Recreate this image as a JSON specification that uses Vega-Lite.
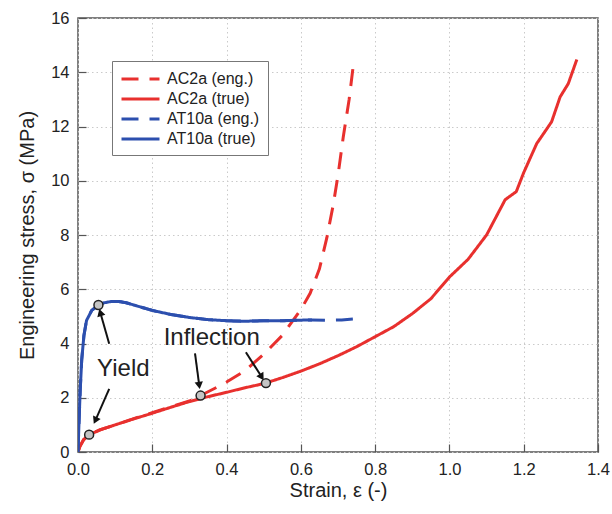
{
  "$schema": "https://vega.github.io/schema/vega-lite/v6.json",
  "autosize": "none",
  "width": 520,
  "height": 434,
  "padding": {"left": 78, "top": 18, "right": 14, "bottom": 62},
  "background": "white",
  "config": {
    "font": "Liberation Sans",
    "view": {"stroke": "#555", "strokeWidth": 1.5},
    "axis": {
      "domain": false,
      "labelFontSize": 16.5,
      "labelColor": "#222",
      "titleFontSize": 20,
      "titleFontWeight": "normal",
      "titleColor": "#222",
      "tickColor": "#555",
      "tickWidth": 1.2,
      "gridColor": "#cacaca",
      "gridDash": [1.5, 3],
      "gridWidth": 1
    },
    "legend": {
      "orient": "none",
      "legendX": 34,
      "legendY": 43,
      "title": null,
      "strokeColor": "#777",
      "fillColor": "white",
      "padding": 8,
      "labelFontSize": 16,
      "labelColor": "#222",
      "labelOffset": 27,
      "symbolType": "M-1,0H3.47",
      "symbolSize": 289,
      "symbolStrokeWidth": 3,
      "rowPadding": 2
    }
  },
  "datasets": {
    "curves": [
      {"series": "AC2a (eng.)", "strain": 0, "stress": 0},
      {"series": "AC2a (eng.)", "strain": 0.005, "stress": 0.2},
      {"series": "AC2a (eng.)", "strain": 0.015, "stress": 0.45},
      {"series": "AC2a (eng.)", "strain": 0.03, "stress": 0.64},
      {"series": "AC2a (eng.)", "strain": 0.06, "stress": 0.82},
      {"series": "AC2a (eng.)", "strain": 0.1, "stress": 1.0},
      {"series": "AC2a (eng.)", "strain": 0.15, "stress": 1.23},
      {"series": "AC2a (eng.)", "strain": 0.2, "stress": 1.45},
      {"series": "AC2a (eng.)", "strain": 0.25, "stress": 1.67},
      {"series": "AC2a (eng.)", "strain": 0.3, "stress": 1.88},
      {"series": "AC2a (eng.)", "strain": 0.33, "stress": 2.08},
      {"series": "AC2a (eng.)", "strain": 0.37, "stress": 2.36},
      {"series": "AC2a (eng.)", "strain": 0.4, "stress": 2.58},
      {"series": "AC2a (eng.)", "strain": 0.45, "stress": 3.0},
      {"series": "AC2a (eng.)", "strain": 0.5, "stress": 3.6},
      {"series": "AC2a (eng.)", "strain": 0.55, "stress": 4.3},
      {"series": "AC2a (eng.)", "strain": 0.6, "stress": 5.25},
      {"series": "AC2a (eng.)", "strain": 0.625, "stress": 5.85},
      {"series": "AC2a (eng.)", "strain": 0.65, "stress": 6.75},
      {"series": "AC2a (eng.)", "strain": 0.67, "stress": 7.9},
      {"series": "AC2a (eng.)", "strain": 0.687, "stress": 9.1},
      {"series": "AC2a (eng.)", "strain": 0.7, "stress": 10.2},
      {"series": "AC2a (eng.)", "strain": 0.714, "stress": 11.6},
      {"series": "AC2a (eng.)", "strain": 0.73, "stress": 13.0},
      {"series": "AC2a (eng.)", "strain": 0.742, "stress": 14.35},
      {"series": "AC2a (true)", "strain": 0, "stress": 0},
      {"series": "AC2a (true)", "strain": 0.005, "stress": 0.2},
      {"series": "AC2a (true)", "strain": 0.015, "stress": 0.45},
      {"series": "AC2a (true)", "strain": 0.03, "stress": 0.64},
      {"series": "AC2a (true)", "strain": 0.06, "stress": 0.82},
      {"series": "AC2a (true)", "strain": 0.1, "stress": 1.0},
      {"series": "AC2a (true)", "strain": 0.15, "stress": 1.22},
      {"series": "AC2a (true)", "strain": 0.2, "stress": 1.43},
      {"series": "AC2a (true)", "strain": 0.25, "stress": 1.65},
      {"series": "AC2a (true)", "strain": 0.3, "stress": 1.86},
      {"series": "AC2a (true)", "strain": 0.35, "stress": 2.04},
      {"series": "AC2a (true)", "strain": 0.4, "stress": 2.2},
      {"series": "AC2a (true)", "strain": 0.45, "stress": 2.37},
      {"series": "AC2a (true)", "strain": 0.5, "stress": 2.52},
      {"series": "AC2a (true)", "strain": 0.55, "stress": 2.74},
      {"series": "AC2a (true)", "strain": 0.6, "stress": 2.98},
      {"series": "AC2a (true)", "strain": 0.65, "stress": 3.25},
      {"series": "AC2a (true)", "strain": 0.7, "stress": 3.55},
      {"series": "AC2a (true)", "strain": 0.75, "stress": 3.88},
      {"series": "AC2a (true)", "strain": 0.8, "stress": 4.25},
      {"series": "AC2a (true)", "strain": 0.85, "stress": 4.62},
      {"series": "AC2a (true)", "strain": 0.9, "stress": 5.1},
      {"series": "AC2a (true)", "strain": 0.95, "stress": 5.65},
      {"series": "AC2a (true)", "strain": 1.0, "stress": 6.45},
      {"series": "AC2a (true)", "strain": 1.05, "stress": 7.1},
      {"series": "AC2a (true)", "strain": 1.1, "stress": 8.0},
      {"series": "AC2a (true)", "strain": 1.15, "stress": 9.3},
      {"series": "AC2a (true)", "strain": 1.18, "stress": 9.6},
      {"series": "AC2a (true)", "strain": 1.2, "stress": 10.3},
      {"series": "AC2a (true)", "strain": 1.235, "stress": 11.37},
      {"series": "AC2a (true)", "strain": 1.275, "stress": 12.17},
      {"series": "AC2a (true)", "strain": 1.298, "stress": 13.09},
      {"series": "AC2a (true)", "strain": 1.32, "stress": 13.58},
      {"series": "AC2a (true)", "strain": 1.343, "stress": 14.47},
      {"series": "AT10a (eng.)", "strain": 0, "stress": 0},
      {"series": "AT10a (eng.)", "strain": 0.003, "stress": 1.2},
      {"series": "AT10a (eng.)", "strain": 0.006, "stress": 2.3},
      {"series": "AT10a (eng.)", "strain": 0.01, "stress": 3.4},
      {"series": "AT10a (eng.)", "strain": 0.016, "stress": 4.3},
      {"series": "AT10a (eng.)", "strain": 0.023, "stress": 4.85},
      {"series": "AT10a (eng.)", "strain": 0.037, "stress": 5.22},
      {"series": "AT10a (eng.)", "strain": 0.055, "stress": 5.42},
      {"series": "AT10a (eng.)", "strain": 0.07, "stress": 5.5},
      {"series": "AT10a (eng.)", "strain": 0.09, "stress": 5.55},
      {"series": "AT10a (eng.)", "strain": 0.11, "stress": 5.55},
      {"series": "AT10a (eng.)", "strain": 0.13, "stress": 5.5},
      {"series": "AT10a (eng.)", "strain": 0.16, "stress": 5.38},
      {"series": "AT10a (eng.)", "strain": 0.2, "stress": 5.22},
      {"series": "AT10a (eng.)", "strain": 0.25, "stress": 5.07},
      {"series": "AT10a (eng.)", "strain": 0.3, "stress": 4.96},
      {"series": "AT10a (eng.)", "strain": 0.35, "stress": 4.88},
      {"series": "AT10a (eng.)", "strain": 0.4, "stress": 4.84},
      {"series": "AT10a (eng.)", "strain": 0.45, "stress": 4.82},
      {"series": "AT10a (eng.)", "strain": 0.5, "stress": 4.84},
      {"series": "AT10a (eng.)", "strain": 0.55, "stress": 4.84},
      {"series": "AT10a (eng.)", "strain": 0.6, "stress": 4.86},
      {"series": "AT10a (eng.)", "strain": 0.63, "stress": 4.87},
      {"series": "AT10a (eng.)", "strain": 0.67, "stress": 4.86},
      {"series": "AT10a (eng.)", "strain": 0.71, "stress": 4.87},
      {"series": "AT10a (eng.)", "strain": 0.74, "stress": 4.9},
      {"series": "AT10a (true)", "strain": 0, "stress": 0},
      {"series": "AT10a (true)", "strain": 0.003, "stress": 1.2},
      {"series": "AT10a (true)", "strain": 0.006, "stress": 2.3},
      {"series": "AT10a (true)", "strain": 0.01, "stress": 3.4},
      {"series": "AT10a (true)", "strain": 0.016, "stress": 4.3},
      {"series": "AT10a (true)", "strain": 0.023, "stress": 4.85},
      {"series": "AT10a (true)", "strain": 0.037, "stress": 5.22},
      {"series": "AT10a (true)", "strain": 0.055, "stress": 5.42},
      {"series": "AT10a (true)", "strain": 0.07, "stress": 5.5},
      {"series": "AT10a (true)", "strain": 0.09, "stress": 5.55},
      {"series": "AT10a (true)", "strain": 0.11, "stress": 5.55},
      {"series": "AT10a (true)", "strain": 0.13, "stress": 5.5},
      {"series": "AT10a (true)", "strain": 0.16, "stress": 5.38},
      {"series": "AT10a (true)", "strain": 0.2, "stress": 5.22},
      {"series": "AT10a (true)", "strain": 0.25, "stress": 5.07},
      {"series": "AT10a (true)", "strain": 0.3, "stress": 4.96},
      {"series": "AT10a (true)", "strain": 0.35, "stress": 4.88},
      {"series": "AT10a (true)", "strain": 0.4, "stress": 4.84},
      {"series": "AT10a (true)", "strain": 0.45, "stress": 4.82},
      {"series": "AT10a (true)", "strain": 0.5, "stress": 4.84},
      {"series": "AT10a (true)", "strain": 0.55, "stress": 4.84},
      {"series": "AT10a (true)", "strain": 0.6, "stress": 4.86},
      {"series": "AT10a (true)", "strain": 0.63, "stress": 4.87}
    ],
    "markers": [
      {"strain": 0.03, "stress": 0.64},
      {"strain": 0.055, "stress": 5.42},
      {"strain": 0.33, "stress": 2.08},
      {"strain": 0.506, "stress": 2.54}
    ],
    "arrows": [
      {"id": "y1", "x": 0.084, "y": 3.99, "x2": 0.061, "y2": 5.1},
      {"id": "y2", "x": 0.084, "y": 2.33, "x2": 0.048, "y2": 1.2},
      {"id": "i1", "x": 0.315, "y": 3.64, "x2": 0.326, "y2": 2.5},
      {"id": "i2", "x": 0.452, "y": 3.68, "x2": 0.493, "y2": 2.8}
    ],
    "labels": [
      {"strain": 0.122, "stress": 3.07, "text": "Yield"},
      {"strain": 0.36, "stress": 4.22, "text": "Inflection"}
    ]
  },
  "layer": [
    {
      "data": {"name": "curves"},
      "mark": {"type": "line", "strokeWidth": 3, "clip": true},
      "encoding": {
        "x": {
          "field": "strain", "type": "quantitative",
          "scale": {"domain": [0, 1.4], "nice": false},
          "axis": {
            "title": "Strain, ε (-)",
            "values": [0, 0.1, 0.2, 0.3, 0.4, 0.5, 0.6, 0.7, 0.8, 0.9, 1.0, 1.1, 1.2, 1.3, 1.4],
            "labelExpr": "round(datum.value*10) % 2 == 0 ? format(datum.value, '.1f') : ''",
            "tickSize": {"condition": {"test": "round(datum.value*10) % 2 == 0", "value": -8}, "value": -4},
            "gridOpacity": {"condition": {"test": "round(datum.value*10) % 2 == 0", "value": 1}, "value": 0},
            "labelPadding": 17,
            "titlePadding": 3,
            "labelFlush": false
          }
        },
        "y": {
          "field": "stress", "type": "quantitative",
          "scale": {"domain": [0, 16], "nice": false},
          "axis": {
            "title": "Engineering stress, σ (MPa)",
            "values": [0, 1, 2, 3, 4, 5, 6, 7, 8, 9, 10, 11, 12, 13, 14, 15, 16],
            "labelExpr": "datum.value % 2 == 0 ? datum.value : ''",
            "tickSize": {"condition": {"test": "datum.value % 2 == 0", "value": -8}, "value": -4},
            "gridOpacity": {"condition": {"test": "datum.value % 2 == 0", "value": 1}, "value": 0},
            "labelPadding": 17,
            "titlePadding": 13,
            "labelFlush": false
          }
        },
        "color": {
          "field": "series", "type": "nominal",
          "scale": {"domain": ["AC2a (eng.)", "AC2a (true)", "AT10a (eng.)", "AT10a (true)"], "range": ["#e8302e", "#e8302e", "#2c4fae", "#2c4fae"]}
        },
        "strokeDash": {
          "field": "series", "type": "nominal",
          "scale": {"domain": ["AC2a (eng.)", "AC2a (true)", "AT10a (eng.)", "AT10a (true)"], "range": [[17, 11], [1, 0], [17, 11], [1, 0]]}
        }
      }
    },
    {
      "data": {"name": "arrows"},
      "mark": {"type": "rule", "color": "#111", "strokeWidth": 2},
      "encoding": {
        "x": {"field": "x", "type": "quantitative"},
        "y": {"field": "y", "type": "quantitative"},
        "x2": {"field": "x2"},
        "y2": {"field": "y2"}
      }
    },
    {
      "data": {"name": "arrows"},
      "transform": [{"filter": "datum.id == 'y1'"}],
      "mark": {"type": "point", "shape": "triangle", "filled": true, "color": "#111", "size": 70, "angle": 344, "opacity": 1},
      "encoding": {"x": {"field": "x2", "type": "quantitative"}, "y": {"field": "y2", "type": "quantitative"}}
    },
    {
      "data": {"name": "arrows"},
      "transform": [{"filter": "datum.id == 'y2'"}],
      "mark": {"type": "point", "shape": "triangle", "filled": true, "color": "#111", "size": 70, "angle": 205, "opacity": 1},
      "encoding": {"x": {"field": "x2", "type": "quantitative"}, "y": {"field": "y2", "type": "quantitative"}}
    },
    {
      "data": {"name": "arrows"},
      "transform": [{"filter": "datum.id == 'i1'"}],
      "mark": {"type": "point", "shape": "triangle", "filled": true, "color": "#111", "size": 70, "angle": 172, "opacity": 1},
      "encoding": {"x": {"field": "x2", "type": "quantitative"}, "y": {"field": "y2", "type": "quantitative"}}
    },
    {
      "data": {"name": "arrows"},
      "transform": [{"filter": "datum.id == 'i2'"}],
      "mark": {"type": "point", "shape": "triangle", "filled": true, "color": "#111", "size": 70, "angle": 148, "opacity": 1},
      "encoding": {"x": {"field": "x2", "type": "quantitative"}, "y": {"field": "y2", "type": "quantitative"}}
    },
    {
      "data": {"name": "markers"},
      "mark": {"type": "point", "filled": true, "fill": "#c4c4c4", "stroke": "#222", "strokeWidth": 1.5, "size": 80, "opacity": 1},
      "encoding": {"x": {"field": "strain", "type": "quantitative"}, "y": {"field": "stress", "type": "quantitative"}}
    },
    {
      "data": {"name": "labels"},
      "mark": {"type": "text", "fontSize": 24, "color": "#222", "align": "center", "baseline": "middle"},
      "encoding": {
        "x": {"field": "strain", "type": "quantitative"},
        "y": {"field": "stress", "type": "quantitative"},
        "text": {"field": "text"}
      }
    }
  ]
}
